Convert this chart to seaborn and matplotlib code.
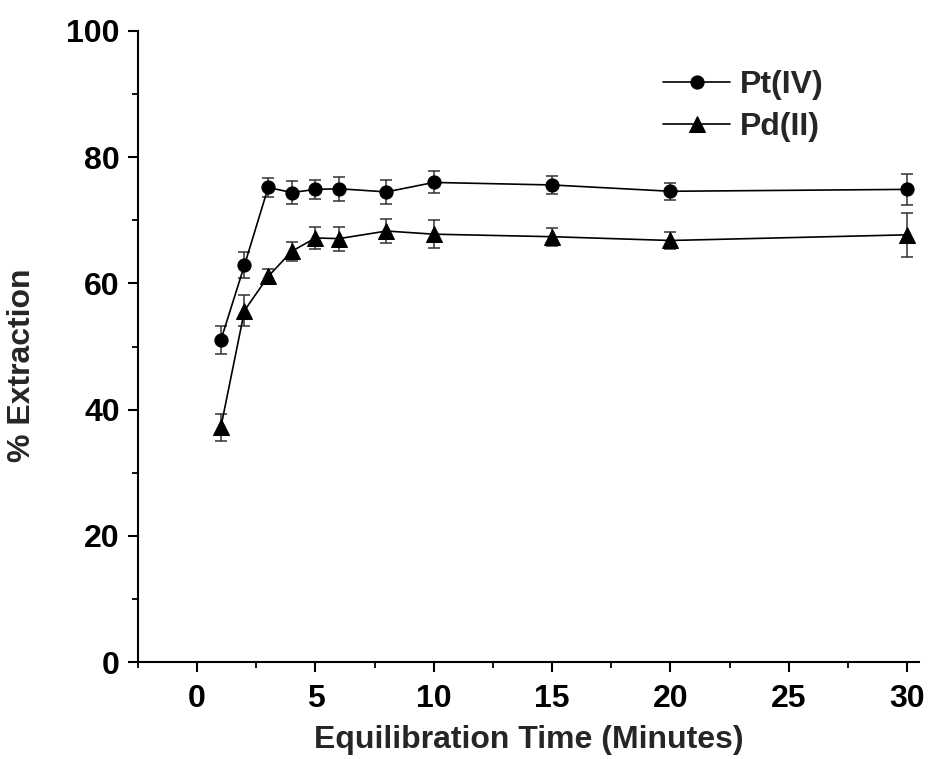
import matplotlib
matplotlib.use("Agg")
import matplotlib.pyplot as plt
import seaborn as sns
import pandas as pd
from matplotlib.ticker import MultipleLocator

time_min = [1, 2, 3, 4, 5, 6, 8, 10, 15, 20, 30]
pt_iv = [51.0, 62.9, 75.2, 74.4, 74.9, 75.0, 74.5, 76.0, 75.6, 74.6, 74.9]
pt_err = [2.2, 2.0, 1.45, 1.75, 1.5, 1.9, 1.9, 1.75, 1.4, 1.35, 2.5]
pd_ii = [37.2, 55.7, 61.1, 65.1, 67.2, 67.1, 68.3, 67.8, 67.4, 66.8, 67.7]
pd_err = [2.1, 2.5, 1.2, 1.5, 1.7, 1.9, 1.95, 2.2, 1.4, 1.3, 3.5]

sns.set_theme(style="ticks")
plt.rcParams['font.family'] = ['Liberation Sans', 'DejaVu Sans']
plt.rcParams['font.weight'] = 'bold'

FS = 23

fig = plt.figure(figsize=(9.29, 7.59), dpi=100)
ax = fig.add_axes([138/929, 1 - 662/759, (919 - 138)/929, (662 - 31)/759])

df_pt = pd.DataFrame({"t": time_min, "v": pt_iv})
df_pd = pd.DataFrame({"t": time_min, "v": pd_ii})

ax.errorbar(time_min, pt_iv, yerr=pt_err, fmt='none', ecolor='#333333',
            elinewidth=1.1, capsize=4, capthick=1.1, zorder=2)
ax.errorbar(time_min, pd_ii, yerr=pd_err, fmt='none', ecolor='#333333',
            elinewidth=1.1, capsize=4, capthick=1.1, zorder=2)

sns.lineplot(data=df_pt, x="t", y="v", ax=ax, color='black', marker='o',
             markersize=9.5, markeredgecolor='black', linewidth=1.2,
             label="Pt(IV)", zorder=3)
sns.lineplot(data=df_pd, x="t", y="v", ax=ax, color='black', marker='^',
             markersize=11, markeredgecolor='black', linewidth=1.2,
             label="Pd(II)", zorder=3)

ax.set_xlim(-2.5, 30.5)
ax.set_ylim(0, 100)
ax.xaxis.set_major_locator(MultipleLocator(5))
ax.xaxis.set_minor_locator(MultipleLocator(2.5))
ax.yaxis.set_major_locator(MultipleLocator(20))
ax.yaxis.set_minor_locator(MultipleLocator(10))

for side in ['top', 'right']:
    ax.spines[side].set_visible(False)
for side in ['left', 'bottom']:
    ax.spines[side].set_linewidth(1.5)
    ax.spines[side].set_color('black')

ax.tick_params(axis='both', which='major', direction='out', length=7,
               width=1.5, labelsize=FS, colors='black', pad=6)
ax.tick_params(axis='both', which='minor', direction='out', length=4, width=1.3,
               colors='black')
ax.tick_params(axis='x', which='major', pad=9)
for lbl in ax.get_xticklabels() + ax.get_yticklabels():
    lbl.set_fontweight('bold')

ax.set_xlabel("Equilibration Time (Minutes)", fontsize=FS, fontweight='bold',
              labelpad=8)
ax.set_ylabel("% Extraction", fontsize=FS, fontweight='bold')
ax.yaxis.set_label_coords((37 - 138)/781, (662 - 365)/631)

leg = ax.legend(loc='upper left', bbox_to_anchor=(663/929, 1 - 70/759),
                bbox_transform=fig.transFigure, frameon=False,
                prop={'size': FS, 'weight': 'bold'}, handlelength=2.1,
                handletextpad=0.3, labelspacing=0.39, borderpad=0,
                borderaxespad=0)

fig.savefig("out.png", dpi=100, facecolor='white')
